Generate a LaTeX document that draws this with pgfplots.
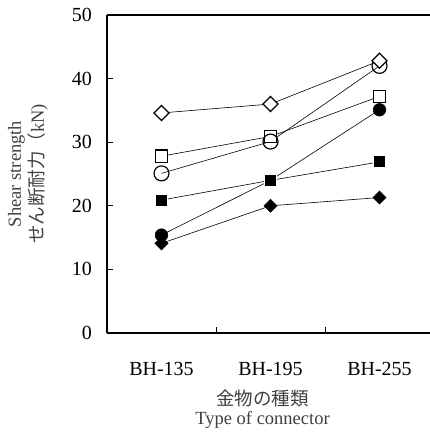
\documentclass[border=0pt]{standalone}
\usepackage{pgfplots}
\pgfplotsset{compat=1.18}
\usepackage{fontspec}
\setmainfont{Liberation Serif}
\newfontfamily\cjk{Noto Sans CJK JP}
\definecolor{labgray}{HTML}{404040}

\begin{document}
\begin{tikzpicture}
\begin{axis}[
 name=ax,
 scale only axis, width=327pt, height=318pt,
 xmin=-0.5, xmax=2.5, ymin=0, ymax=50,
 axis x line*=box, axis y line*=left,
 axis line style={line width=1.5pt},
 xtick={0.5,1.5}, xticklabels={},
 extra x ticks={0,1,2}, extra x tick labels={BH-135,BH-195,BH-255},
 extra x tick style={major tick length=0pt},
 ytick={0,10,...,50},
 tick align=inside, xtick pos=bottom, ytick pos=left,
 major tick length=6pt,
 tick style={line width=0.8pt, black},
 /pgf/number format/assume math mode=true,
 tick label style={font=\fontsize{20}{24}\selectfont, inner sep=0pt},
 yticklabel style={anchor=east, xshift=-15pt},
 xticklabel style={anchor=base, yshift=-42pt},
 clip=false,
 every axis plot/.append style={black, line width=0.6pt},
]
% filled diamond
\addplot[mark=square*, mark size=4.6pt, mark options={rotate=45, solid}] coordinates {(0,14.1) (1,20.0) (2,21.3)};
% filled circle
\addplot[mark=*, mark size=6.3pt, mark options={solid}] coordinates {(0,15.4) (1,24.0) (2,35.1)};
% filled square
\addplot[mark=square*, mark size=6.1pt, mark options={solid, fill=black, draw=white, line width=1.2pt}] coordinates {(0,20.9) (1,24.0) (2,26.9)};
% open square
\addplot[mark=square*, mark size=6.2pt, mark options={solid, fill=white, line width=1.2pt}] coordinates {(0,27.8) (1,30.9) (2,37.2)};
% open circle
\addplot[mark=o, mark size=7.5pt, mark options={solid, line width=1.2pt}] coordinates {(0,25.1) (1,30.1) (2,42.0)};
% open diamond
\addplot[mark=square*, mark size=5.3pt, mark options={rotate=45, solid, fill=white, line width=1.2pt}] coordinates {(0,34.6) (1,36.0) (2,42.8)};
\coordinate (bl) at (rel axis cs:0,0);
\coordinate (ml) at (rel axis cs:0,0.5);
\coordinate (xl) at (axis cs:0.927,0);
\end{axis}
\node[rotate=90, anchor=south, align=center, inner sep=0pt, font=\fontsize{18.5}{23}\selectfont, text=labgray] at ([xshift=-59pt]ml) {Shear strength\\{\cjk せん断耐力（}kN)};
\node[anchor=base, inner sep=0pt, font=\fontsize{18.5}{23}\selectfont, text=labgray] at ([yshift=-72pt]xl) {\cjk 金物の種類};
\node[anchor=base, inner sep=0pt, font=\fontsize{18.5}{23}\selectfont, text=labgray] at ([yshift=-91pt]xl) {Type of connector};
\pgfresetboundingbox
\path ([shift={(-107pt,-100pt)}]bl) rectangle ([shift={(323pt,333pt)}]bl);
\end{tikzpicture}
\end{document}
